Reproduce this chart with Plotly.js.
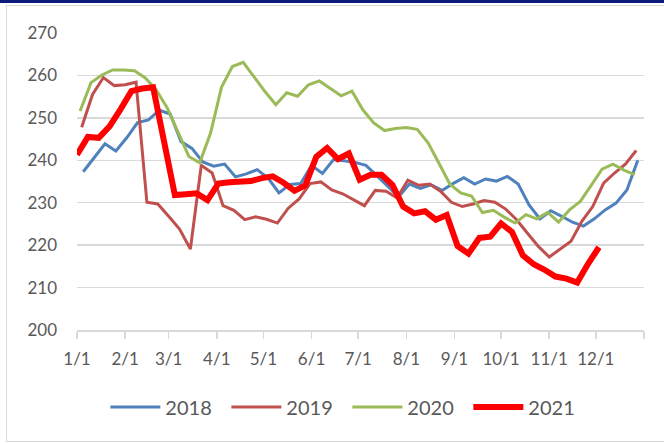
<!DOCTYPE html>
<html>
<head>
<meta charset="utf-8">
<script src="https://cdn.plot.ly/plotly-3.0.1.min.js"></script>
<style>
  body { margin:0; padding:0; background:#ffffff; }
  #wrap { position:relative; width:664px; height:443px; overflow:hidden; }
  #topbar { position:absolute; left:0; top:0; width:664px; height:2.5px; background:#0d1c7c; }
  #frame { position:absolute; left:6px; top:5px; width:700px; height:435px; border:1px solid #d9d9d9; }
  #chart { position:absolute; left:0; top:0; width:664px; height:443px; }
</style>
</head>
<body>
<div id="wrap">
  <div id="topbar"></div>
  <div id="frame"></div>
  <div id="chart"></div>
</div>
<script>
// Series names
const seriesNames = ["2018", "2019", "2020", "2021"];
// Day of year of first weekly observation (Fridays) for each year
const startDay = { "2018": 4, "2019": 3, "2020": 2, "2021": 0 };

// Weekly values
const values2018 = [237.3, 240.5, 243.9, 242.2, 245.3, 248.9, 249.5, 251.8, 250.9, 244.4, 242.8, 239.6,
  238.6, 239.1, 236.1, 236.8, 237.8, 235.8, 232.3, 234.3, 234.5, 238.8, 236.9, 240.1, 239.9, 239.5,
  238.8, 236.4, 233.9, 231.4, 234.4, 233.4, 234.2, 232.9, 234.5, 235.9, 234.4, 235.6, 235.1, 236.2,
  234.4, 229.5, 226.2, 228.1, 226.8, 225.4, 224.5, 226.2, 228.3, 229.9, 233.0, 240.0];
const values2019 = [247.8, 255.5, 259.5, 257.6, 257.8, 258.4, 230.1, 229.7, 226.8, 223.8, 219.1, 238.8,
  237.0, 229.3, 228.2, 226.0, 226.7, 226.1, 225.2, 228.7, 230.9, 234.5, 234.9, 233.0, 232.1, 230.7,
  229.3, 232.9, 232.7, 231.1, 235.3, 234.1, 234.4, 232.7, 230.1, 229.1, 229.7, 230.5, 230.1, 228.5,
  226.0, 222.8, 219.7, 217.2, 219.1, 220.9, 225.6, 229.1, 234.6, 237.0, 239.1, 242.3];
const values2020 = [251.6, 258.3, 260.1, 261.3, 261.3, 261.1, 259.4, 256.6, 252.4, 246.8, 240.9, 239.4,
  246.4, 257.2, 262.1, 263.1, 259.6, 256.2, 253.1, 255.9, 255.1, 257.8, 258.7, 257.0, 255.2, 256.3,
  251.9, 248.8, 247.0, 247.5, 247.7, 247.3, 244.1, 239.3, 234.4, 232.3, 231.6, 227.7, 228.2, 226.6,
  225.2, 227.2, 226.2, 227.7, 225.4, 228.3, 230.3, 234.1, 237.9, 239.1, 237.7, 236.6];
const values2021 = [241.3, 245.5, 245.3, 248.0, 252.0, 256.3, 256.9, 257.2, 244.5, 231.8, 232.0, 232.2,
  230.6, 234.5, 234.8, 235.0, 235.1, 235.8, 236.2, 234.7, 232.8, 234.1, 240.8, 242.9, 240.3, 241.6,
  235.4, 236.6, 236.6, 234.2, 229.1, 227.5, 228.0, 226.0, 227.1, 219.8, 218.0, 221.7, 222.0, 225.1,
  223.1, 217.6, 215.5, 214.2, 212.6, 212.1, 211.2, 215.6, 219.5];

// X axis tick positions (day of year of month starts) and labels
const monthStartDays = [0, 31, 59, 90, 120, 151, 181, 212, 243, 273, 304, 334, 365];
const monthLabels = ["1/1", "2/1", "3/1", "4/1", "5/1", "6/1", "7/1", "8/1", "9/1", "10/1", "11/1", "12/1", ""];

const colors = { "2018": "#4f81bd", "2019": "#c0504d", "2020": "#9bbb59", "2021": "#ff0000" };
const widths = { "2018": 3, "2019": 3, "2020": 3, "2021": 6 };
const allValues = { "2018": values2018, "2019": values2019, "2020": values2020, "2021": values2021 };

function weeklyDays(name, n) {
  const out = [];
  for (let i = 0; i < n; i++) out.push(startDay[name] + 7 * i);
  return out;
}

const traces = seriesNames.map(name => ({
  type: "scatter",
  mode: "lines",
  name: name,
  x: weeklyDays(name, allValues[name].length),
  y: allValues[name],
  line: { color: colors[name], width: widths[name], shape: "linear" },
  hoverinfo: "x+y+name"
}));

const tickFont = { family: "Lato, 'Open Sans', sans-serif", size: 17, color: "#595959" };

const layout = {
  width: 664,
  height: 443,
  margin: { l: 77, r: 20, t: 33, b: 113, pad: 0 },
  paper_bgcolor: "rgba(0,0,0,0)",
  plot_bgcolor: "rgba(0,0,0,0)",
  showlegend: true,
  legend: {
    orientation: "h",
    x: 0.05, xanchor: "left",
    y: -0.259, yanchor: "middle",
    font: { family: "Lato, 'Open Sans', sans-serif", size: 20, color: "#595959" },
    itemwidth: 50,
    entrywidth: 56,
    entrywidthmode: "pixels",
    traceorder: "normal",
    bgcolor: "rgba(0,0,0,0)"
  },
  xaxis: {
    range: [0, 365],
    tickmode: "array",
    tickvals: monthStartDays,
    ticktext: monthLabels,
    ticks: "outside",
    ticklen: 7,
    tickwidth: 1.5,
    tickcolor: "#d9d9d9",
    showline: true,
    linecolor: "#d9d9d9",
    linewidth: 1.5,
    showgrid: false,
    zeroline: false,
    tickfont: tickFont,
    ticklabelstandoff: 6,
    fixedrange: true
  },
  yaxis: {
    range: [200, 270],
    tickmode: "linear",
    tick0: 200,
    dtick: 10,
    showgrid: true,
    gridcolor: "#d9d9d9",
    gridwidth: 1.5,
    showline: false,
    zeroline: false,
    ticks: "",
    tickfont: tickFont,
    ticklabelstandoff: 19,
    fixedrange: true
  }
};

Plotly.newPlot("chart", traces, layout, { displayModeBar: false, staticPlot: true });
</script>
</body>
</html>
